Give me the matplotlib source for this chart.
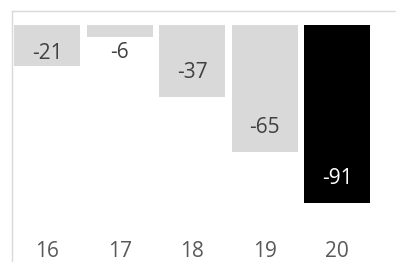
import matplotlib.pyplot as plt
from matplotlib.lines import Line2D

categorias = ["16", "17", "18", "19", "20"]
valores = [-21, -6, -37, -65, -91]

W, H, DPI = 396, 262, 100
fig = plt.figure(figsize=(W / DPI, H / DPI), dpi=DPI)
plt.rcParams["font.family"] = ["Open Sans", "DejaVu Sans"]

# borde del área del gráfico (solo se ven los lados izquierdo y superior)
bx, by = 11.5 / W, 1 - 10.5 / H
fig.lines.append(Line2D([bx, bx], [0, by], transform=fig.transFigure,
                        color="#d9d9d9", linewidth=1.0))
fig.lines.append(Line2D([bx, 1], [by, by], transform=fig.transFigure,
                        color="#d9d9d9", linewidth=1.0))

# ejes en coordenadas de píxel: cero en y=25, ~1.956 px por unidad
izq, der, arriba, abajo = 11, 373.5, 25, 238
ax = fig.add_axes([izq / W, 1 - abajo / H, (der - izq) / W, (abajo - arriba) / H])
ax.set_xlim(-0.5, len(valores) - 0.5)
ax.set_ylim(-(abajo - arriba) / 1.956, 0)

colores = ["#d9d9d9"] * (len(valores) - 1) + ["#000000"]
x = range(len(valores))
ax.bar(x, valores, width=0.91, color=colores)

# posición de etiquetas relativa al extremo de la barra (unidades de datos)
desplaz = [6.2, -8.3, 12.8, 12.4, 12.3]
for i, v in enumerate(valores):
    color = "white" if i == len(valores) - 1 else "#404040"
    ax.text(i, v + desplaz[i], str(v), ha="center", va="center",
            fontsize=15, color=color)

ax.set_xticks(list(x))
ax.set_xticklabels(categorias, fontsize=15, color="#595959")
ax.tick_params(axis="x", length=0, pad=2.5)
ax.set_yticks([])
for s in ax.spines.values():
    s.set_visible(False)

fig.savefig("out.png", dpi=DPI)
